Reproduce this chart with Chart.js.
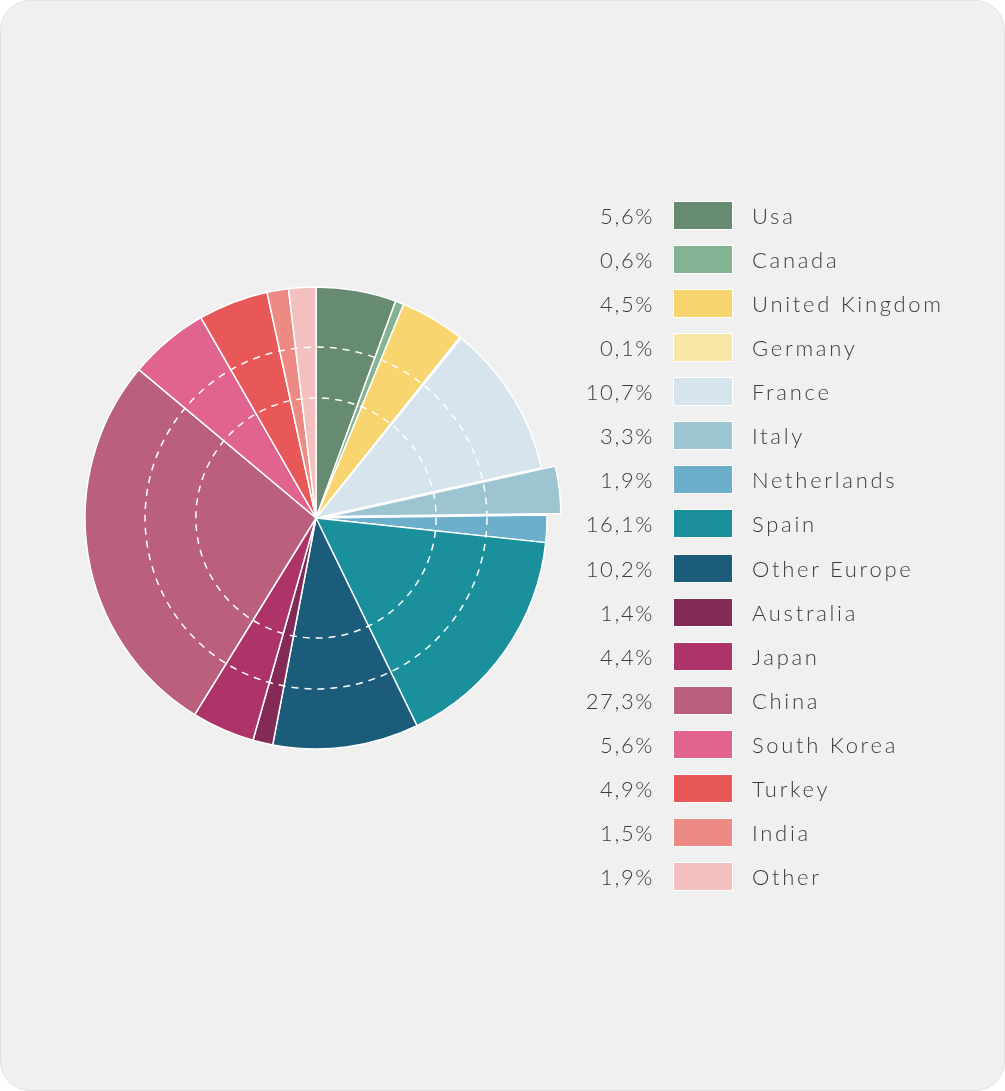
<!DOCTYPE html>
<html>
<head>
<meta charset="utf-8">
<script src="https://cdn.jsdelivr.net/npm/chart.js@4.4.1/dist/chart.umd.min.js"></script>
<style>
  html, body { margin: 0; padding: 0; background: #fff; }
  .card {
    position: absolute; left: 0; top: 0; width: 1003px; height: 1089px;
    background: #f0f0f0; border: 1px solid #e2e2e2; border-radius: 30px;
  }
  #pieWrap { position: absolute; left: 56px; top: 258px; width: 520px; height: 520px; }
  #legend {
    position: absolute; left: 560px; top: 193px; margin: 0; padding: 0; list-style: none;
    font-family: Lato, "Open Sans", sans-serif; font-weight: 300; font-size: 22px;
    color: #3c3c3c;
  }
  #legend li { height: 44.13px; display: flex; align-items: center; position: relative; }
  #legend .pct { width: 94px; text-align: right; letter-spacing: 1.6px; }
  #legend .box {
    width: 60px; height: 29px; margin-left: 19px; margin-right: 19px;
    border: 1px solid #fff; box-sizing: border-box;
  }
  #legend .lbl { letter-spacing: 2.7px; }
</style>
</head>
<body>
<div class="card"></div>
<div id="pieWrap"><canvas id="grafico"></canvas></div>
<ul id="legend"></ul>
<script>
const paises = ['Usa', 'Canada', 'United Kingdom', 'Germany', 'France', 'Italy', 'Netherlands', 'Spain',
  'Other Europe', 'Australia', 'Japan', 'China', 'South Korea', 'Turkey', 'India', 'Other'];
const porcentajes = [5.6, 0.6, 4.5, 0.1, 10.7, 3.3, 1.9, 16.1, 10.2, 1.4, 4.4, 27.3, 5.6, 4.9, 1.5, 1.9];
const colores = ['#668b71', '#83b392', '#f8d56f', '#f9e8a5', '#d6e4ed', '#9cc4d1', '#6cafca', '#1a909d',
  '#1b5c7a', '#832a56', '#ae3368', '#bb607c', '#e06390', '#e85858', '#ee8a84', '#f3bfbf'];
const destacado = 'Italy';

// leyenda en html, con el porcentaje a la izquierda
const legend = document.getElementById('legend');
paises.forEach((p, i) => {
  const li = document.createElement('li');
  li.innerHTML = '<span class="pct">' + porcentajes[i].toFixed(1).replace('.', ',') + '%</span>' +
    '<span class="box" style="background:' + colores[i] + '"></span><span class="lbl">' + p + '</span>';
  legend.appendChild(li);
});

// separar la porcion destacada (mueve todo el sector, como en el original)
const separarPorcion = {
  id: 'separarPorcion',
  afterDatasetUpdate(chart, args) {
    const el = args.meta.data[paises.indexOf(destacado)];
    if (!el) return;
    const mid = (el.startAngle + el.endAngle) / 2;
    el.x += Math.cos(mid) * 14;
    el.y += Math.sin(mid) * 14;
  }
};

// circulos punteados encima del pastel
const circulosPunteados = {
  id: 'circulosPunteados',
  afterDatasetsDraw(chart) {
    const arc = chart.getDatasetMeta(0).data[0];
    if (!arc) return;
    const ctx = chart.ctx;
    ctx.save();
    ctx.strokeStyle = '#ffffff';
    ctx.lineWidth = 1.5;
    ctx.setLineDash([7, 6]);
    [0.74, 0.52].forEach(f => {
      ctx.beginPath();
      ctx.arc(arc.x, arc.y, arc.outerRadius * f, 0, Math.PI * 2);
      ctx.stroke();
    });
    ctx.restore();
  }
};

new Chart(document.getElementById('grafico'), {
  type: 'pie',
  data: {
    labels: paises,
    datasets: [{
      data: porcentajes,
      backgroundColor: colores,
      borderColor: '#ffffff',
      borderWidth: 1.5
    }]
  },
  options: {
    responsive: true,
    maintainAspectRatio: false,
    animation: false,
    radius: 231,
    plugins: { legend: { display: false }, tooltip: { enabled: false } },
    events: []
  },
  plugins: [separarPorcion, circulosPunteados]
});
</script>
</body>
</html>
